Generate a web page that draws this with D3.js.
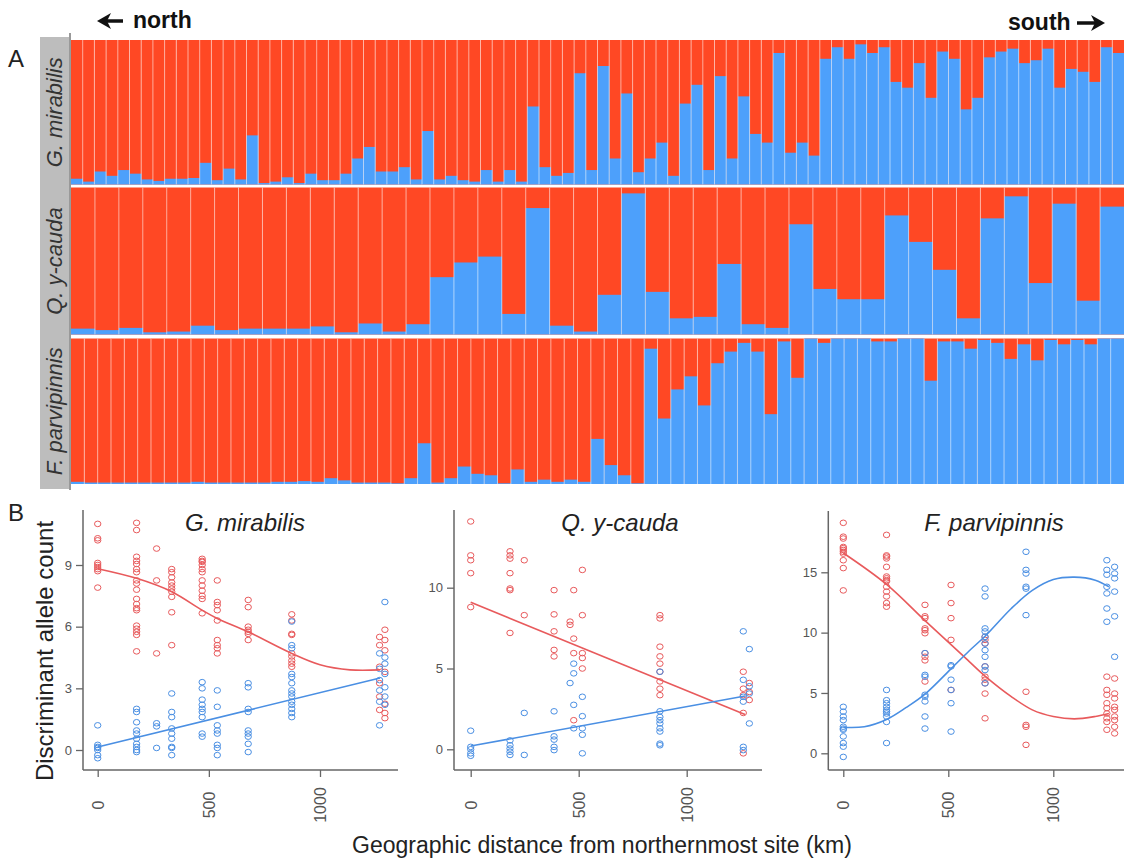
<!DOCTYPE html>
<html>
<head>
<meta charset="utf-8">
<script src="https://cdn.jsdelivr.net/npm/d3@7"></script>
<style>
  body { margin: 0; background: #fff; }
  svg { display: block; font-family: "Liberation Sans", Arial, sans-serif; }
</style>
</head>
<body>
<div id="main"></div>
<script>
// ---- panel A: blue (southern cluster) share per individual, north -> south
const barsGM = [0.04,0.02,0.09,0.06,0.10,0.075,0.035,0.025,0.04,0.04,0.045,0.15,0.03,0.11,0.035,0.34,0.01,0.02,0.05,0.01,
  0.075,0.03,0.03,0.075,0.18,0.26,0.09,0.09,0.12,0.035,0.37,0.035,0.06,0.03,0.02,0.10,0.02,0.10,0.02,0.54,
  0.12,0.06,0.08,0.77,0.10,0.82,0.18,0.63,0.085,0.18,0.29,0.06,0.56,0.69,0.10,0.75,0.18,0.61,0.35,0.29,
  0.91,0.22,0.29,0.20,0.87,0.95,0.87,0.97,0.91,0.95,0.71,0.67,0.84,0.60,0.92,0.87,0.52,0.60,0.88,0.92,
  0.94,0.84,0.86,0.94,0.67,0.80,0.78,0.71,0.95,0.91];
const barsQY = [0.04,0.03,0.045,0.015,0.02,0.06,0.03,0.04,0.04,0.04,0.055,0.015,0.075,0.02,0.07,0.39,0.49,0.53,0.14,0.86,
  0.06,0.02,0.27,0.96,0.29,0.11,0.12,0.48,0.07,0.045,0.75,0.31,0.24,0.24,0.81,0.63,0.44,0.11,0.79,0.94,
  0.35,0.89,0.23,0.87];
const barsFP = [0.015,0.01,0.01,0.01,0.01,0.01,0.01,0.01,0.01,0.015,0.01,0.01,0.01,0.01,0.01,0.015,0.015,0.02,0.015,0.04,
  0.025,0.01,0.01,0.01,0.005,0.04,0.28,0.01,0.04,0.12,0.07,0.06,0.005,0.10,0.015,0.03,0.015,0.03,0.015,0.31,
  0.13,0.06,0.005,0.93,0.45,0.65,0.74,0.54,0.83,0.91,0.97,0.91,0.48,0.98,0.73,1.0,0.97,1.0,1.0,1.0,
  0.98,0.98,1.0,1.0,0.71,0.98,0.98,0.93,0.99,0.97,0.86,0.96,0.85,0.99,0.96,0.99,0.96,1.0,1.0];

// ---- panel B: discriminant allele counts per site (km from northernmost site)
const gmSites = [0, 175, 265, 333, 470, 538, 677, 873, 1268, 1292];
const gmRed = [
  [11.0, 10.3, 10.2, 9.1, 9.0, 8.9, 8.8, 8.7, 7.9],
  [11.05, 10.7, 9.4, 9.2, 9.05, 8.8, 8.65, 8.25, 8.1, 7.8, 7.35, 7.1, 6.9, 6.8, 6.05, 5.9, 5.75, 5.6, 4.8],
  [9.8, 8.25, 4.7],
  [8.8, 8.65, 8.4, 8.15, 8.0, 7.85, 7.7, 7.45, 6.7, 5.1],
  [9.3, 9.2, 9.15, 9.0, 8.8, 8.65, 8.25, 8.0, 7.75, 7.5, 7.35, 6.65],
  [8.25, 7.2, 7.05, 6.8, 6.3, 5.35, 5.1, 4.95, 4.7],
  [7.3, 6.95, 6.0, 5.85, 5.75, 5.65, 5.35],
  [6.6, 6.3, 5.65, 5.6, 4.7, 4.55, 4.35, 4.2, 4.05],
  [5.5, 5.1, 4.05, 3.25, 2.6, 1.95],
  [5.85, 5.35, 4.85, 3.8, 2.25, 1.8, 1.55]
];
const gmBlue = [
  [1.2, 0.25, 0.15, 0.1, 0.0, -0.25, -0.4],
  [2.0, 1.85, 1.35, 0.95, 0.8, 0.55, 0.3, 0.15, 0.0, -0.1],
  [1.3, 1.15, 0.1],
  [2.75, 1.85, 1.6, 1.05, 0.8, 0.55, 0.15, 0.1, -0.25],
  [3.3, 3.0, 2.45, 2.2, 2.0, 1.85, 1.6, 0.8, 0.65],
  [2.9, 2.1, 1.2, 0.95, 0.8, 0.25, 0.1, -0.25],
  [3.25, 3.05, 2.0, 1.85, 0.95, 0.8, 0.65, 0.3, -0.1],
  [6.25, 5.1, 4.95, 3.7, 3.55, 3.25, 2.9, 2.75, 2.6, 2.35, 2.2, 2.0, 1.8, 1.6],
  [4.7, 3.95, 3.4, 2.9, 2.35, 1.2],
  [7.2, 4.5, 4.2, 3.7, 3.05, 2.6, 2.2]
];
const gmRedFit = [[0, 8.82], [175, 8.35], [333, 7.7], [470, 6.8], [538, 6.4], [677, 5.75], [873, 4.7], [1000, 4.15], [1135, 3.9], [1270, 3.9]];
const gmBlueFit = [[0, 0.15], [1270, 3.5]];

const qySites = [0, 182, 248, 386, 460, 477, 517, 876, 1262, 1290];
const qyRed = [
  [14.1, 12.0, 11.7, 10.9, 8.8],
  [12.25, 12.0, 11.8, 10.9, 9.95, 9.85, 7.2],
  [11.7, 8.3],
  [9.85, 8.35, 7.3, 6.15, 5.75],
  [7.9, 7.7],
  [9.85, 6.85, 5.95, 1.8],
  [11.1, 8.3, 5.95, 5.65, 5.0],
  [8.3, 8.1, 6.35, 5.75, 5.3, 4.8, 4.2, 3.75, 3.35],
  [4.8, 3.75, 3.35, 2.25, -0.25],
  [4.1, 3.55, 3.05]
];
const qyBlue = [
  [1.15, 0.15, 0.0, -0.25, -0.4],
  [0.55, 0.25, 0.05, -0.15, -0.35],
  [2.25, -0.35],
  [2.35, 0.8, 0.6, 0.15, -0.05],
  [4.1],
  [5.3, 4.7, 2.75, 1.3],
  [3.25, 2.05, 1.3, 0.9, -0.25],
  [4.8, 2.35, 2.0, 1.8, 1.6, 1.3, 1.1, 0.35, 0.25],
  [7.3, 4.3, 3.25, 2.95, 0.15, -0.05],
  [6.2, 3.9, 3.45, 1.6]
];
const qyRedFit = [[0, 9.1], [1270, 2.15]];
const qyBlueFit = [[0, 0.2], [1270, 3.3]];

const fpSites = [0, 206, 389, 513, 675, 870, 1255, 1292];
const fpRed = [
  [19.1, 17.95, 17.8, 17.1, 17.0, 16.85, 16.7, 16.55, 16.0, 15.35, 13.5],
  [18.1, 16.4, 16.3, 16.15, 15.45, 14.65, 14.5, 14.35, 14.25, 13.8, 13.4, 13.0, 12.45, 12.15],
  [12.3, 11.35, 11.2, 10.35, 10.2, 9.95, 8.3, 8.0, 7.7, 5.95],
  [13.95, 12.45, 11.2, 9.4, 5.25],
  [9.65, 9.4, 9.1, 7.2, 6.35, 6.1, 5.8, 4.95, 2.9],
  [5.1, 2.35, 2.2, 0.7],
  [6.35, 5.25, 4.85, 4.15, 3.75, 3.3, 2.9, 2.6, 1.95],
  [6.2, 4.95, 4.55, 3.85, 3.6, 3.05, 2.75, 2.2, 1.65]
];
const fpBlue = [
  [3.85, 3.45, 3.05, 2.75, 2.2, 2.05, 1.95, 1.4, 0.85, 0.55, -0.3],
  [5.25, 4.4, 4.15, 3.85, 3.6, 3.45, 3.3, 3.05, 2.6, 0.85],
  [8.3, 6.5, 6.35, 4.85, 4.7, 4.3, 3.05, 2.05],
  [7.3, 7.2, 6.1, 5.25, 4.15, 1.8],
  [13.65, 13.0, 10.35, 10.1, 9.65, 9.1, 8.55, 8.0, 7.2, 6.9, 5.8],
  [16.7, 15.2, 14.9, 13.8, 13.65, 11.45],
  [16.0, 15.2, 14.8, 13.8, 13.25, 12.0, 10.9],
  [15.45, 14.9, 14.5, 13.4, 11.35, 8.0]
];
const fpRedFit = [[0, 16.6], [206, 14.0], [389, 11.0], [513, 9.0], [600, 7.6], [675, 6.4], [800, 4.7], [900, 3.6], [1000, 3.05], [1100, 2.85], [1200, 3.05], [1265, 3.3]];
const fpBlueFit = [[0, 2.15], [100, 2.2], [206, 2.8], [300, 3.8], [389, 4.9], [513, 7.0], [600, 8.5], [675, 9.7], [800, 12.0], [900, 13.5], [1000, 14.4], [1100, 14.6], [1200, 14.35], [1265, 13.8]];

const xTicks = [0, 500, 1000];

const RED = '#ff4824', BLUE = '#4da0fb';
const PRED = '#e85a5c', PBLUE = '#4a8fe3';

const svg = d3.select('#main').append('svg').attr('width', 1124).attr('height', 861);

// ================= A =================
svg.append('text').attr('x', 8).attr('y', 67).style('font-size', '24px').attr('fill', '#222').text('A');

svg.append('rect').attr('x', 40).attr('y', 37).attr('width', 29).attr('height', 452).attr('fill', '#bdbdbd');
svg.append('line').attr('x1', 70).attr('x2', 70).attr('y1', 33).attr('y2', 490)
  .attr('stroke', '#777').attr('stroke-width', 1.5);

const panelsA = [
  { label: 'G. mirabilis', vals: barsGM, top: 40, bottom: 184.5 },
  { label: 'Q. y-cauda', vals: barsQY, top: 187.5, bottom: 334.5 },
  { label: 'F. parvipinnis', vals: barsFP, top: 338.5, bottom: 484 }
];

panelsA.forEach(p => {
  const x = d3.scaleBand().domain(d3.range(p.vals.length)).range([71, 1124]);
  const y = d3.scaleLinear().domain([0, 1]).range([p.bottom, p.top]);
  const g = svg.append('g');
  g.append('g').selectAll('rect').data(p.vals).join('rect')
    .attr('x', (d, i) => x(i)).attr('width', x.bandwidth() + 0.3)
    .attr('y', y(1)).attr('height', y(0) - y(1)).attr('fill', RED);
  g.append('g').selectAll('rect').data(p.vals).join('rect')
    .attr('x', (d, i) => x(i)).attr('width', x.bandwidth() + 0.3)
    .attr('y', d => y(d)).attr('height', d => y(0) - y(d)).attr('fill', BLUE);
  g.append('g').selectAll('line').data(d3.range(1, p.vals.length)).join('line')
    .attr('x1', i => x(i)).attr('x2', i => x(i)).attr('y1', y(1)).attr('y2', y(0))
    .attr('stroke', '#fff').attr('stroke-opacity', 0.55).attr('stroke-width', 1);

  svg.append('text')
    .attr('transform', `translate(62,${(p.top + p.bottom) / 2}) rotate(-90)`)
    .attr('text-anchor', 'middle').style('font-size', '22px').style('font-style', 'italic')
    .attr('fill', '#333').text(p.label);
});

// north / south arrows
function arrow(xTail, xHead, yy) {
  const dir = Math.sign(xHead - xTail);
  svg.append('line').attr('x1', xTail).attr('x2', xHead - dir * 8).attr('y1', yy).attr('y2', yy)
    .attr('stroke', '#111').attr('stroke-width', 3.5);
  svg.append('path')
    .attr('d', `M${xHead},${yy} L${xHead - dir * 14},${yy - 8} L${xHead - dir * 10},${yy} L${xHead - dir * 14},${yy + 8} Z`)
    .attr('fill', '#111');
}
arrow(123, 97, 21);
svg.append('text').attr('x', 133).attr('y', 28).style('font-size', '23px').style('font-weight', 'bold')
  .attr('fill', '#111').text('north');
svg.append('text').attr('x', 1008).attr('y', 30).style('font-size', '23px').style('font-weight', 'bold')
  .attr('fill', '#111').text('south');
arrow(1077, 1105, 23);

// ================= B =================
svg.append('text').attr('x', 8).attr('y', 521).style('font-size', '24px').attr('fill', '#222').text('B');

const panelsB = [
  { title: 'G. mirabilis', sites: gmSites, red: gmRed, blue: gmBlue, redFit: gmRedFit, blueFit: gmBlueFit,
    yTicks: [0, 3, 6, 9], yRef: 9, left: 83, right: 398, top: 510, bottom: 770,
    xr: [97.7, 320], yr: [750, 565], tx: 245 },
  { title: 'Q. y-cauda', sites: qySites, red: qyRed, blue: qyBlue, redFit: qyRedFit, blueFit: qyBlueFit,
    yTicks: [0, 5, 10], yRef: 10, left: 454, right: 762, top: 510, bottom: 770,
    xr: [470.7, 686.7], yr: [749.3, 587.7], tx: 620 },
  { title: 'F. parvipinnis', sites: fpSites, red: fpRed, blue: fpBlue, redFit: fpRedFit, blueFit: fpBlueFit,
    yTicks: [0, 5, 10, 15], yRef: 15, left: 828.3, right: 1130, top: 511, bottom: 770,
    xr: [843.3, 1053.3], yr: [753.3, 572.3], tx: 994 }
];

panelsB.forEach(p => {
  const x = d3.scaleLinear().domain([0, 1000]).range(p.xr);
  const y = d3.scaleLinear().domain([0, p.yRef]).range(p.yr);
  const g = svg.append('g');

  // frame (L shape)
  g.append('line').attr('x1', p.left).attr('x2', p.left).attr('y1', p.top).attr('y2', p.bottom)
    .attr('stroke', '#666').attr('stroke-width', 1.5);
  g.append('line').attr('x1', p.left).attr('x2', p.right).attr('y1', p.bottom).attr('y2', p.bottom)
    .attr('stroke', '#666').attr('stroke-width', 1.5);

  const ya = g.append('g').attr('transform', `translate(${p.left},0)`)
    .call(d3.axisLeft(y).tickValues(p.yTicks).tickSize(7).tickPadding(4).tickFormat(d3.format('d')));
  ya.select('.domain').remove();
  ya.selectAll('line').attr('stroke', '#666').attr('stroke-width', 1.3);
  ya.selectAll('text').attr('fill', '#555').style('font-size', '13px').style('font-family', '"Liberation Sans", Arial, sans-serif');

  const xa = g.append('g').attr('transform', `translate(0,${p.bottom})`)
    .call(d3.axisBottom(x).tickValues(xTicks).tickSize(7).tickFormat(d3.format('d')));
  xa.select('.domain').remove();
  xa.selectAll('line').attr('stroke', '#666').attr('stroke-width', 1.3);
  xa.selectAll('text')
    .attr('transform', 'rotate(-90)').attr('x', -35).attr('y', 0).attr('dy', '0.35em')
    .attr('text-anchor', 'middle').attr('fill', '#555')
    .style('font-size', '16px').style('font-family', '"Liberation Sans", Arial, sans-serif');

  const pts = (sites, groups) => groups.flatMap((vals, i) => vals.map(v => [sites[i], v]));
  [[p.red, PRED], [p.blue, PBLUE]].forEach(([groups, col]) => {
    g.append('g').selectAll('ellipse').data(pts(p.sites, groups)).join('ellipse')
      .attr('cx', d => x(d[0])).attr('cy', d => y(d[1])).attr('rx', 3.2).attr('ry', 2.8)
      .attr('fill', 'none').attr('stroke', col).attr('stroke-width', 1);
  });

  const line = d3.line().x(d => x(d[0])).y(d => y(d[1])).curve(d3.curveCatmullRom.alpha(0.5));
  g.append('path').datum(p.redFit).attr('d', line).attr('fill', 'none').attr('stroke', PRED).attr('stroke-width', 1.6);
  g.append('path').datum(p.blueFit).attr('d', line).attr('fill', 'none').attr('stroke', PBLUE).attr('stroke-width', 1.6);

  g.append('text').attr('x', p.tx).attr('y', 531).attr('text-anchor', 'middle')
    .style('font-size', '24px').style('font-style', 'italic').attr('fill', '#222').text(p.title);
});

svg.append('text').attr('transform', 'translate(53,651) rotate(-90)').attr('text-anchor', 'middle')
  .style('font-size', '24px').attr('fill', '#222').text('Discriminant allele count');
svg.append('text').attr('x', 602).attr('y', 853).attr('text-anchor', 'middle')
  .style('font-size', '23px').attr('fill', '#222').text('Geographic distance from northernmost site (km)');
</script>
</body>
</html>
